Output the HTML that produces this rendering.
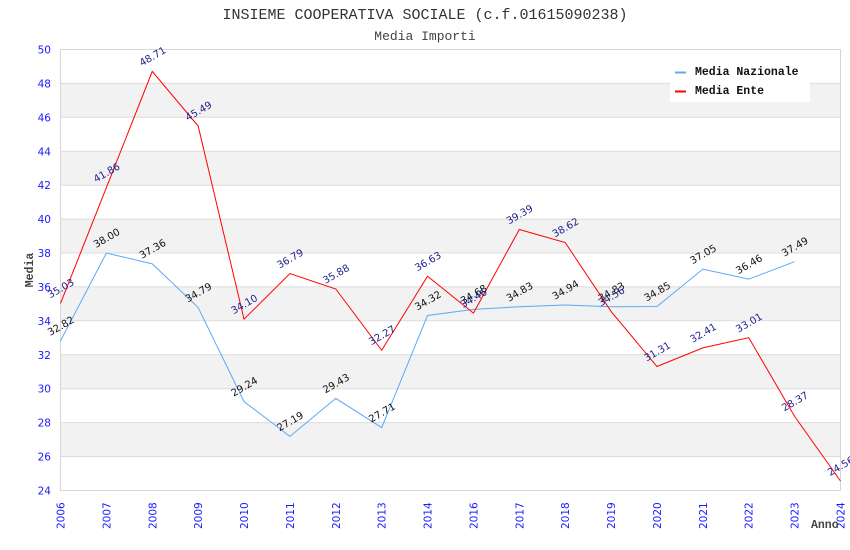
<!DOCTYPE html>
<html><head><meta charset="utf-8"><style>
html,body{margin:0;padding:0;background:#fff;}
svg{display:block;}
</style></head><body>
<svg width="850" height="550" viewBox="0 0 850 550" xmlns="http://www.w3.org/2000/svg">
<rect width="850" height="550" fill="#fff"/>
<text x="425" y="19" text-anchor="middle" font-family="Liberation Mono, monospace" font-size="15" fill="#333">INSIEME COOPERATIVA SOCIALE (c.f.01615090238)</text>
<text x="425" y="40" text-anchor="middle" font-family="Liberation Mono, monospace" font-size="13" fill="#444">Media Importi</text>
<g fill="#f2f2f2">
<rect x="60.5" y="83.4" width="780" height="33.9"/>
<rect x="60.5" y="151.3" width="780" height="33.9"/>
<rect x="60.5" y="219.1" width="780" height="33.9"/>
<rect x="60.5" y="286.9" width="780" height="33.9"/>
<rect x="60.5" y="354.8" width="780" height="33.9"/>
<rect x="60.5" y="422.6" width="780" height="33.9"/>
</g>
<g stroke="#dcdcdc" stroke-width="1">
<line x1="60.5" x2="840.5" y1="83.4" y2="83.4"/>
<line x1="60.5" x2="840.5" y1="117.3" y2="117.3"/>
<line x1="60.5" x2="840.5" y1="151.3" y2="151.3"/>
<line x1="60.5" x2="840.5" y1="185.2" y2="185.2"/>
<line x1="60.5" x2="840.5" y1="219.1" y2="219.1"/>
<line x1="60.5" x2="840.5" y1="253.0" y2="253.0"/>
<line x1="60.5" x2="840.5" y1="286.9" y2="286.9"/>
<line x1="60.5" x2="840.5" y1="320.8" y2="320.8"/>
<line x1="60.5" x2="840.5" y1="354.8" y2="354.8"/>
<line x1="60.5" x2="840.5" y1="388.7" y2="388.7"/>
<line x1="60.5" x2="840.5" y1="422.6" y2="422.6"/>
<line x1="60.5" x2="840.5" y1="456.5" y2="456.5"/>
</g>
<rect x="60.5" y="49.5" width="780" height="441" fill="none" stroke="#d6d6d6" stroke-width="1"/>
<rect x="670" y="50" width="140" height="52" fill="#fff"/>
<line x1="675" x2="686" y1="72.5" y2="72.5" stroke="#5fa8f5" stroke-width="2"/>
<line x1="675" x2="686" y1="91.5" y2="91.5" stroke="#ff0000" stroke-width="2"/>
<g font-family="Liberation Mono, monospace" font-size="11.5" font-weight="bold" fill="#111">
<text x="695" y="75">Media Nazionale</text>
<text x="695" y="94">Media Ente</text>
</g>
<g font-family="DejaVu Sans, sans-serif" font-size="10.5" fill="#1a1aff" text-anchor="end">
<text x="51" y="53.5">50</text>
<text x="51" y="87.4">48</text>
<text x="51" y="121.3">46</text>
<text x="51" y="155.3">44</text>
<text x="51" y="189.2">42</text>
<text x="51" y="223.1">40</text>
<text x="51" y="257.0">38</text>
<text x="51" y="290.9">36</text>
<text x="51" y="324.8">34</text>
<text x="51" y="358.8">32</text>
<text x="51" y="392.7">30</text>
<text x="51" y="426.6">28</text>
<text x="51" y="460.5">26</text>
<text x="51" y="494.5">24</text>
</g>
<text transform="translate(33,270) rotate(-90)" text-anchor="middle" font-family="Liberation Mono, monospace" font-size="11.5" font-weight="bold" fill="#444">Media</text>
<g font-family="DejaVu Sans, sans-serif" font-size="10.5" fill="#1a1aff">
<text transform="translate(64.5,529) rotate(-90)">2006</text>
<text transform="translate(110.4,529) rotate(-90)">2007</text>
<text transform="translate(156.3,529) rotate(-90)">2008</text>
<text transform="translate(202.2,529) rotate(-90)">2009</text>
<text transform="translate(248.0,529) rotate(-90)">2010</text>
<text transform="translate(293.9,529) rotate(-90)">2011</text>
<text transform="translate(339.8,529) rotate(-90)">2012</text>
<text transform="translate(385.7,529) rotate(-90)">2013</text>
<text transform="translate(431.6,529) rotate(-90)">2014</text>
<text transform="translate(477.4,529) rotate(-90)">2016</text>
<text transform="translate(523.3,529) rotate(-90)">2017</text>
<text transform="translate(569.2,529) rotate(-90)">2018</text>
<text transform="translate(615.1,529) rotate(-90)">2019</text>
<text transform="translate(661.0,529) rotate(-90)">2020</text>
<text transform="translate(706.9,529) rotate(-90)">2021</text>
<text transform="translate(752.7,529) rotate(-90)">2022</text>
<text transform="translate(798.6,529) rotate(-90)">2023</text>
<text transform="translate(844.5,529) rotate(-90)">2024</text>
</g>
<text x="811" y="528" font-family="Liberation Mono, monospace" font-size="11.5" font-weight="bold" fill="#444">Anno</text>
<polyline fill="none" stroke="#5fa8f5" stroke-width="1" points="60.5,340.9 106.38,253.04 152.26,263.89 198.15,307.49 244.03,401.62 289.91,436.39 335.79,398.4 381.68,427.57 427.56,315.46 473.44,309.35 519.32,306.81 565.21,304.94 611.09,306.81 656.97,306.47 702.85,269.15 748.74,279.16 794.62,261.69"/>
<polyline fill="none" stroke="#ff0000" stroke-width="1" points="60.5,303.41 106.38,187.57 152.26,71.38 198.15,126.0 244.03,319.19 289.91,273.56 335.79,289.0 381.68,350.23 427.56,276.28 473.44,313.08 519.32,229.46 565.21,242.52 611.09,311.39 656.97,366.51 702.85,347.85 748.74,337.68 794.62,416.38 840.5,481.0"/>
<g font-family="DejaVu Sans, sans-serif" font-size="10" fill="#111" text-anchor="middle">
<text transform="translate(62.5,328.9) rotate(-30)">32.82</text>
<text transform="translate(108.4,241.0) rotate(-30)">38.00</text>
<text transform="translate(154.3,251.9) rotate(-30)">37.36</text>
<text transform="translate(200.2,295.5) rotate(-30)">34.79</text>
<text transform="translate(246.0,389.6) rotate(-30)">29.24</text>
<text transform="translate(291.9,424.4) rotate(-30)">27.19</text>
<text transform="translate(337.8,386.4) rotate(-30)">29.43</text>
<text transform="translate(383.7,415.6) rotate(-30)">27.71</text>
<text transform="translate(429.6,303.5) rotate(-30)">34.32</text>
<text transform="translate(475.4,297.4) rotate(-30)">34.68</text>
<text transform="translate(521.3,294.8) rotate(-30)">34.83</text>
<text transform="translate(567.2,292.9) rotate(-30)">34.94</text>
<text transform="translate(613.1,294.8) rotate(-30)">34.83</text>
<text transform="translate(659.0,294.5) rotate(-30)">34.85</text>
<text transform="translate(704.9,257.2) rotate(-30)">37.05</text>
<text transform="translate(750.7,267.2) rotate(-30)">36.46</text>
<text transform="translate(796.6,249.7) rotate(-30)">37.49</text>
</g>
<g font-family="DejaVu Sans, sans-serif" font-size="10" fill="#22228c" text-anchor="middle">
<text transform="translate(62.5,291.4) rotate(-30)">35.03</text>
<text transform="translate(108.4,175.6) rotate(-30)">41.86</text>
<text transform="translate(154.3,59.4) rotate(-30)">48.71</text>
<text transform="translate(200.2,114.0) rotate(-30)">45.49</text>
<text transform="translate(246.0,307.2) rotate(-30)">34.10</text>
<text transform="translate(291.9,261.6) rotate(-30)">36.79</text>
<text transform="translate(337.8,277.0) rotate(-30)">35.88</text>
<text transform="translate(383.7,338.2) rotate(-30)">32.27</text>
<text transform="translate(429.6,264.3) rotate(-30)">36.63</text>
<text transform="translate(475.4,301.1) rotate(-30)">34.46</text>
<text transform="translate(521.3,217.5) rotate(-30)">39.39</text>
<text transform="translate(567.2,230.5) rotate(-30)">38.62</text>
<text transform="translate(613.1,299.4) rotate(-30)">34.56</text>
<text transform="translate(659.0,354.5) rotate(-30)">31.31</text>
<text transform="translate(704.9,335.9) rotate(-30)">32.41</text>
<text transform="translate(750.7,325.7) rotate(-30)">33.01</text>
<text transform="translate(796.6,404.4) rotate(-30)">28.37</text>
<text transform="translate(842.5,469.0) rotate(-30)">24.56</text>
</g>
</svg>
</body></html>
